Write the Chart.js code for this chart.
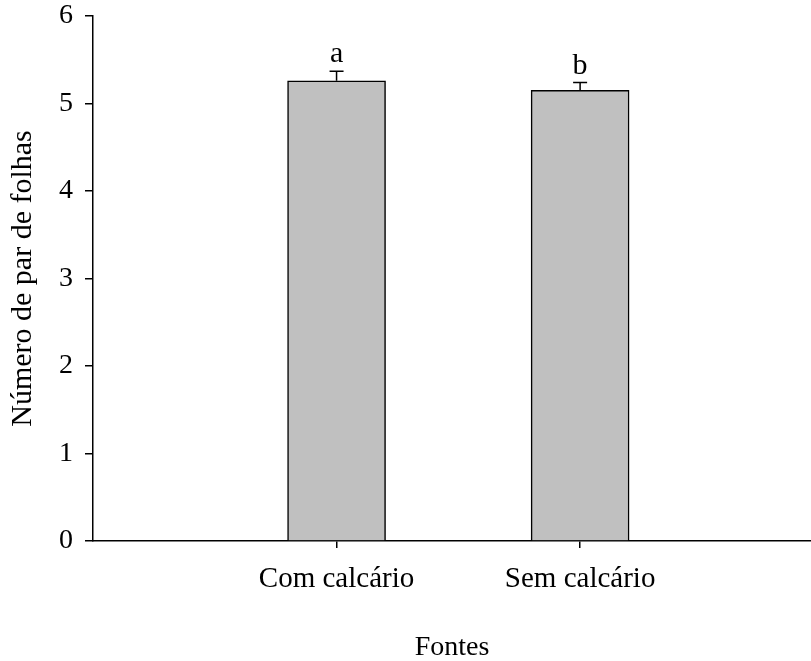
<!DOCTYPE html>
<html>
<head>
<meta charset="utf-8">
<script src="https://cdn.jsdelivr.net/npm/chart.js@4/dist/chart.umd.min.js"></script>
<style>
  html, body { margin: 0; padding: 0; background: #ffffff; }
  #wrap { width: 811px; height: 661px; position: relative; }
</style>
</head>
<body>
<div id="wrap"><canvas id="c" width="811" height="661"></canvas></div>
<script>
// ---- data ----
const categories = ['Com calcário', 'Sem calcário'];
const categoryPositions = [1, 2];
const meanValues = [5.26, 5.15];
const errorValues = [0.11, 0.09];
const letters = ['a', 'b'];
const yTicks = [0, 1, 2, 3, 4, 5, 6];
const xTitle = 'Fontes';
const yTitle = 'Número de par de folhas';

const FONT = "'Liberation Serif', 'Times New Roman', serif";

const errorBarPlugin = {
  id: 'errorBars',
  afterDatasetsDraw(chart) {
    const ctx = chart.ctx;
    const xs = chart.scales.x, ys = chart.scales.y;
    ctx.save();
    ctx.strokeStyle = '#000';
    ctx.lineWidth = 1.5;
    ctx.fillStyle = '#000';
    ctx.font = "30px " + FONT;
    ctx.textAlign = 'center';
    ctx.textBaseline = 'alphabetic';
    meanValues.forEach((v, i) => {
      const x = xs.getPixelForValue(categoryPositions[i]);
      const y0 = ys.getPixelForValue(v);
      const y1 = ys.getPixelForValue(v + errorValues[i]);
      ctx.beginPath();
      ctx.moveTo(x, y0);
      ctx.lineTo(x, y1);
      ctx.moveTo(x - 7, y1);
      ctx.lineTo(x + 7, y1);
      ctx.stroke();
      ctx.fillText(letters[i], x, y1 - 9);
    });
    ctx.restore();
  }
};

new Chart(document.getElementById('c'), {
  type: 'bar',
  data: {
    datasets: [{
      data: categoryPositions.map((p, i) => ({ x: p, y: meanValues[i] })),
      backgroundColor: '#c0c0c0',
      borderColor: '#000000',
      borderWidth: 1.5,
      barThickness: 98
    }]
  },
  options: {
    responsive: false,
    animation: false,
    devicePixelRatio: 1,
    layout: { padding: { top: 16, right: 0, bottom: 0, left: 0 } },
    plugins: { legend: { display: false }, tooltip: { enabled: false } },
    scales: {
      x: {
        type: 'linear',
        offset: false,
        min: 0,
        max: 2.948,
        afterBuildTicks(scale) { scale.ticks = categoryPositions.map(v => ({ value: v })); },
        afterFit(scale) { scale.height = 120; scale.paddingLeft = 0; scale.paddingRight = 0; },
        ticks: {
          callback: (v) => { const i = categoryPositions.indexOf(v); return i >= 0 ? categories[i] : ''; },
          color: '#000',
          font: { family: FONT, size: 29 },
          padding: 14,
          maxRotation: 0,
          autoSkip: false
        },
        grid: { offset: false, drawOnChartArea: false, drawTicks: true, tickLength: 7, color: '#000', lineWidth: 1.5 },
        border: { display: true, color: '#000', width: 1.5 },
        title: { display: true, text: xTitle, color: '#000', font: { family: FONT, size: 28 }, padding: { top: 0, bottom: -3 } }
      },
      y: {
        min: 0,
        max: 6,
        afterBuildTicks(scale) { scale.ticks = yTicks.map(v => ({ value: v })); },
        afterFit(scale) { scale.width = 93; scale.paddingTop = 0; scale.paddingBottom = 0; },
        ticks: {
          color: '#000',
          font: { family: FONT, size: 28 },
          padding: 12
        },
        grid: { drawOnChartArea: false, drawTicks: true, tickLength: 8, color: '#000', lineWidth: 1.5 },
        border: { display: true, color: '#000', width: 1.5 },
        title: { display: true, text: yTitle, color: '#000', font: { family: FONT, size: 30 }, padding: { top: 5, bottom: 0 } }
      }
    }
  },
  plugins: [errorBarPlugin]
});
</script>
</body>
</html>
